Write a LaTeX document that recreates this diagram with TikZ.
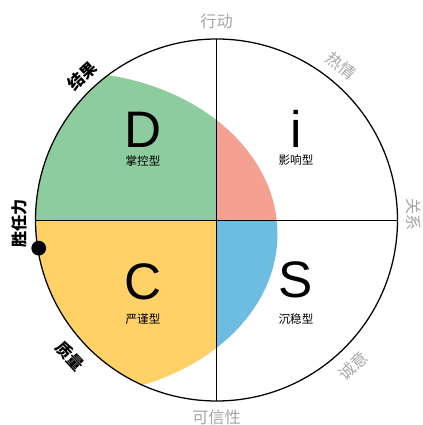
\documentclass[tikz,border=0pt]{standalone}
\usepackage{fontspec}
\usepackage{xcolor}
\usepackage{tikz}
\setmainfont{Liberation Sans}
\newfontfamily\cjk{Noto Sans CJK SC}

\definecolor{dgreen}{HTML}{8DCC9D}
\definecolor{isalmon}{HTML}{F5A191}
\definecolor{sblue}{HTML}{6DBDE3}
\definecolor{cyellow}{HTML}{FFD166}

\begin{document}
\begin{tikzpicture}[x=0.05cm, y=0.05cm,
  letter/.style={font=\fontsize{73}{73}\selectfont, inner sep=0pt},
  kind/.style={font=\cjk\fontsize{16.5}{16.5}\selectfont, inner sep=0pt},
  axislabel/.style={font=\cjk\fontsize{23}{23}\selectfont, text=black!35, inner sep=0pt},
  trait/.style={font=\cjk\bfseries\fontsize{23}{23}\selectfont, inner sep=0pt},
  scoredot/.style={circle, fill=black, inner sep=0pt, minimum size=21}]

  \useasboundingbox (-216.5,-205) rectangle (205.5,220);

  % score shape, cut to the circle
  \begin{scope}
    \clip (0,0) circle (181);
    \clip (-150,-14) ellipse [x radius=211, y radius=162];
    \fill[dgreen] (-190,0) rectangle (0,190);
    \fill[isalmon] (0,0) rectangle (190,190);
    \fill[sblue] (0,0) rectangle (190,-190);
    \fill[cyellow] (-190,0) rectangle (0,-190);
  \end{scope}

  % circle and axes
  \draw[line width=1.8pt] (0,0) circle (181);
  \coordinate (top) at (90:181);
  \coordinate (bottom) at (-90:181);
  \coordinate (left) at (180:181);
  \coordinate (right) at (0:181);
  \draw[line width=1.4pt] (top) -- (bottom);
  \draw[line width=1.4pt] (left) -- (right);

  % quadrant letters
  \node[letter] (d) at (-73.5,90) {D};
  \node[letter] (i) at (79.5,91) {i};
  \node[letter] (c) at (-73.5,-62) {C};
  \node[letter] (s) at (79.5,-60) {S};
  \node[kind] (dkind) at (-73.5,59) {掌控型};
  \node[kind] (ikind) at (79.5,60) {影响型};
  \node[kind] (ckind) at (-73.5,-99) {严谨型};
  \node[kind] (skind) at (79.5,-99) {沉稳型};

  % labels round the circle
  \node[axislabel] (act) at (90:199) {行动};
  \node[axislabel, rotate=-39] (warm) at (51:198) {热情};
  \node[axislabel, rotate=-90] (rel) at (1.5:197) {关系};
  \node[axislabel, rotate=43] (sincere) at (-47:200) {诚意};
  \node[axislabel] (trust) at (-90:197) {可信性};
  \node[trait, rotate=-47] (quality) at (-137:200) {质量};
  \node[trait, rotate=90] (comp) at (181:197) {胜任力};
  \node[trait, rotate=43] (result) at (133:197) {结果};

  \node[scoredot] (mark) at (189:180) {};

\end{tikzpicture}
\end{document}
